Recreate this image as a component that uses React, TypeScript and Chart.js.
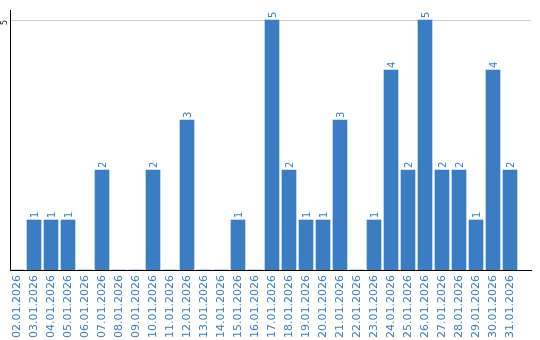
import React, { useEffect, useRef } from 'react';
import { Chart, registerables } from 'chart.js';

Chart.register(...registerables);

const categories: string[] = [
  '02.01.2026', '03.01.2026', '04.01.2026', '05.01.2026', '06.01.2026',
  '07.01.2026', '08.01.2026', '09.01.2026', '10.01.2026', '11.01.2026',
  '12.01.2026', '13.01.2026', '14.01.2026', '15.01.2026', '16.01.2026',
  '17.01.2026', '18.01.2026', '19.01.2026', '20.01.2026', '21.01.2026',
  '22.01.2026', '23.01.2026', '24.01.2026', '25.01.2026', '26.01.2026',
  '27.01.2026', '28.01.2026', '29.01.2026', '30.01.2026', '31.01.2026',
];

const values: number[] = [
  0, 1, 1, 1, 0, 2, 0, 0, 2, 0,
  3, 0, 0, 1, 0, 5, 2, 1, 1, 3,
  0, 1, 4, 2, 5, 2, 2, 1, 4, 2,
];

const yTickValues: number[] = [5];

const BAR_COLOR = '#3b7dc3';
const LABEL_COLOR = '#3b7dc3';
const FONT = '"DejaVu Sans", Verdana, sans-serif';

const valueLabels = {
  id: 'valueLabels',
  afterDatasetsDraw(chart: any) {
    const ctx = chart.ctx;
    const meta = chart.getDatasetMeta(0);
    ctx.save();
    ctx.fillStyle = LABEL_COLOR;
    ctx.font = `10px ${FONT}`;
    ctx.textAlign = 'left';
    ctx.textBaseline = 'middle';
    meta.data.forEach((bar: any, i: number) => {
      const v = values[i];
      if (!v) return;
      ctx.save();
      ctx.translate(bar.x + 1, bar.y - 2);
      ctx.rotate(-Math.PI / 2);
      ctx.fillText(String(v), 0, 0);
      ctx.restore();
    });
    ctx.restore();
  },
};

export default function App() {
  const ref = useRef<HTMLCanvasElement | null>(null);

  useEffect(() => {
    document.body.style.margin = '0';
    const canvas = ref.current;
    if (!canvas) return;
    const xMin = -7 / 17;
    const xMax = xMin + 521 / 17;
    const chart = new Chart(canvas, {
      type: 'bar',
      data: {
        datasets: [
          {
            data: values.map((v, i) => ({ x: i, y: v })),
            backgroundColor: BAR_COLOR,
            borderWidth: 0,
            barThickness: 14,
          },
        ],
      },
      options: {
        animation: false,
        responsive: false,
        maintainAspectRatio: false,
        layout: { padding: { top: 10, right: 9, left: 0, bottom: 0 } },
        plugins: {
          legend: { display: false },
          tooltip: { enabled: false },
        },
        scales: {
          x: {
            type: 'linear',
            offset: false,
            bounds: 'data',
            min: xMin,
            max: xMax,
            afterBuildTicks: (scale: any) => {
              scale.ticks = categories.map((_, i) => ({ value: i }));
            },
            afterFit: (scale: any) => {
              scale.height = 70;
            },
            grid: { display: false, drawTicks: false, offset: false },
            border: { display: true, color: '#000000', width: 1 },
            ticks: {
              autoSkip: false,
              minRotation: 90,
              maxRotation: 90,
              padding: 5,
              color: LABEL_COLOR,
              font: { family: FONT, size: 11 },
              callback: (_v: any, index: number) => categories[index],
            },
          },
          y: {
            min: 0,
            max: 5.2,
            afterBuildTicks: (scale: any) => {
              scale.ticks = yTickValues.map((v) => ({ value: v }));
            },
            afterFit: (scale: any) => {
              scale.width = 10;
            },
            grid: { color: '#cccccc', drawTicks: false, lineWidth: 1 },
            border: { display: true, color: '#000000', width: 1 },
            ticks: {
              minRotation: 90,
              maxRotation: 90,
              padding: 5,
              color: '#222222',
              font: { family: FONT, size: 8 },
            },
          },
        },
      },
      plugins: [valueLabels],
    });
    return () => chart.destroy();
  }, []);

  return (
    <div style={{ width: 540, height: 340 }}>
      <canvas ref={ref} width={540} height={340} />
    </div>
  );
}
